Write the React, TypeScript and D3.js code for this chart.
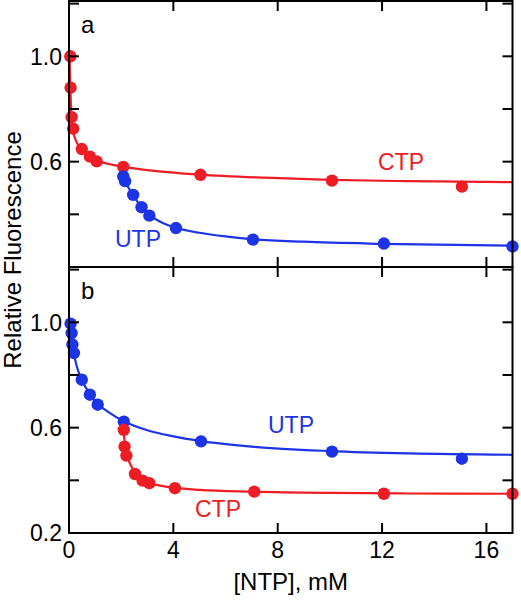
import React from "react";
import * as d3 from "d3";

// ---- data ----
const xTicks = [0, 4, 8, 12, 16];
const yTicks = [0.2, 0.4, 0.6, 0.8, 1.0, 1.2];
const yLabelsA = [0.6, 1.0];
const yLabelsB = [0.2, 0.6, 1.0];

// panel a
const ctpA: [number, number][] = [
  [0.05, 1.0], [0.06, 0.881], [0.1, 0.769], [0.16, 0.725], [0.49, 0.648],
  [0.8, 0.619], [1.06, 0.601], [2.08, 0.58], [5.04, 0.55], [10.08, 0.528], [15.06, 0.505],
];
const ctpAFit: [number, number][] = [
  [0.02, 1.0], [0.05, 0.88], [0.1, 0.77], [0.15, 0.72], [0.3, 0.672], [0.5, 0.645],
  [0.8, 0.621], [1.1, 0.604], [2, 0.582], [3, 0.568], [5, 0.551], [7.5, 0.539],
  [10, 0.531], [13, 0.526], [17, 0.522],
];
const utpA: [number, number][] = [
  [2.08, 0.544], [2.15, 0.526], [2.46, 0.474], [2.78, 0.427], [3.08, 0.395],
  [4.1, 0.348], [7.05, 0.304], [12.07, 0.289], [17.0, 0.278],
];
const utpAFit: [number, number][] = [
  [1.98, 0.56], [2.2, 0.515], [2.5, 0.466], [2.8, 0.425], [3.1, 0.396], [3.5, 0.372],
  [4.1, 0.349], [5, 0.33], [6, 0.316], [7, 0.306], [9, 0.296], [12, 0.288], [17, 0.281],
];

// panel b
const utpB: [number, number][] = [
  [0.06, 0.995], [0.1, 0.959], [0.13, 0.916], [0.19, 0.883], [0.49, 0.782],
  [0.8, 0.725], [1.1, 0.687], [2.1, 0.623], [5.06, 0.548], [10.08, 0.509], [15.06, 0.482],
];
const utpBFit: [number, number][] = [
  [0.02, 1.0], [0.08, 0.95], [0.15, 0.9], [0.3, 0.832], [0.5, 0.78], [0.8, 0.727],
  [1.1, 0.69], [1.5, 0.66], [2.1, 0.624], [3, 0.59], [4, 0.567], [5, 0.55],
  [7, 0.528], [10, 0.511], [13, 0.502], [17, 0.497],
];
const ctpB: [number, number][] = [
  [2.1, 0.592], [2.13, 0.528], [2.2, 0.494], [2.53, 0.424], [2.82, 0.399],
  [3.08, 0.389], [4.06, 0.37], [7.1, 0.357], [12.07, 0.349], [17.0, 0.349],
];
const ctpBFit: [number, number][] = [
  [2.06, 0.6], [2.15, 0.54], [2.25, 0.49], [2.5, 0.435], [2.8, 0.403], [3.1, 0.389],
  [3.5, 0.38], [4.1, 0.371], [5, 0.364], [7, 0.357], [10, 0.352], [13, 0.35], [17, 0.349],
];

const RED = "#ee1c24";
const BLUE = "#1c33e6";
const FONT = "Arial, 'Liberation Sans', Helvetica, sans-serif";

const W = 521;
const H = 600;
const left = 69;
const right = 512.5;
const panelTops = [1, 267];
const panelH = 266;
const TICK = 10;

const x = d3.scaleLinear().domain([0, 17]).range([left, right]);

type Series = { pts: [number, number][]; fit: [number, number][]; color: string };

function Panel({ top, letter, series, yLabels, labels }: {
  top: number; letter: string; series: Series[]; yLabels: number[];
  labels: { text: string; x: number; y: number; color: string }[];
}) {
  const y = d3.scaleLinear().domain([0.2, 1.21]).range([top + panelH, top]);
  const line = d3.line<[number, number]>()
    .x((d) => x(d[0]))
    .y((d) => y(d[1]))
    .curve(d3.curveMonotoneX);
  const bottom = top + panelH;
  return (
    <g>
      {series.map((s, i) => (
        <path key={"l" + i} d={line(s.fit) || ""} fill="none" stroke={s.color} strokeWidth={2.2} />
      ))}
      {series.map((s, i) =>
        s.pts.map((p, j) => (
          <circle key={"c" + i + "-" + j} cx={x(p[0])} cy={y(p[1])} r={6.2} fill={s.color} />
        ))
      )}
      <rect x={left} y={top} width={right - left} height={panelH} fill="none" stroke="#000" strokeWidth={2} />
      {yTicks.map((t) => (
        <g key={"yt" + t}>
          <line x1={left} x2={left + TICK} y1={y(t)} y2={y(t)} stroke="#000" strokeWidth={2} />
          <line x1={right} x2={right - TICK} y1={y(t)} y2={y(t)} stroke="#000" strokeWidth={2} />
        </g>
      ))}
      {xTicks.map((t) => (
        <g key={"xt" + t}>
          <line x1={x(t)} x2={x(t)} y1={top} y2={top + TICK} stroke="#000" strokeWidth={2} />
          <line x1={x(t)} x2={x(t)} y1={bottom} y2={bottom - TICK} stroke="#000" strokeWidth={2} />
        </g>
      ))}
      {yLabels.map((t) => (
        <text key={"yl" + t} x={left - 7} y={y(t)} dy="0.36em" textAnchor="end" fontSize={23} fontFamily={FONT} fill="#000">
          {t.toFixed(1)}
        </text>
      ))}
      <text x={81} y={top + 32} fontSize={24} fontFamily={FONT} fill="#000">{letter}</text>
      {labels.map((l) => (
        <text key={l.text} x={l.x} y={l.y} fontSize={23} fontFamily={FONT} fill={l.color}>{l.text}</text>
      ))}
    </g>
  );
}

export default function App() {
  return (
    <svg width={W} height={H} style={{ position: "absolute", left: 0, top: 0, background: "#fff" }}>
      <rect width={W} height={H} fill="#fff" />
      <Panel
        top={panelTops[0]}
        letter="a"
        series={[
          { pts: ctpA, fit: ctpAFit, color: RED },
          { pts: utpA, fit: utpAFit, color: BLUE },
        ]}
        yLabels={yLabelsA}
        labels={[
          { text: "CTP", x: 378, y: 170, color: RED },
          { text: "UTP", x: 115, y: 247, color: BLUE },
        ]}
      />
      <Panel
        top={panelTops[1]}
        letter="b"
        series={[
          { pts: utpB, fit: utpBFit, color: BLUE },
          { pts: ctpB, fit: ctpBFit, color: RED },
        ]}
        yLabels={yLabelsB}
        labels={[
          { text: "UTP", x: 268, y: 433, color: BLUE },
          { text: "CTP", x: 195, y: 517, color: RED },
        ]}
      />
      {xTicks.map((t) => (
        <text key={"xl" + t} x={x(t)} y={558} textAnchor="middle" fontSize={23} fontFamily={FONT} fill="#000">
          {t}
        </text>
      ))}
      <text x={(left + right) / 2} y={590} textAnchor="middle" fontSize={24} fontFamily={FONT} fill="#000">
        [NTP], mM
      </text>
      <text transform="translate(21,250) rotate(-90)" textAnchor="middle" fontSize={24} fontFamily={FONT} fill="#000">
        Relative Fluorescence
      </text>
    </svg>
  );
}
